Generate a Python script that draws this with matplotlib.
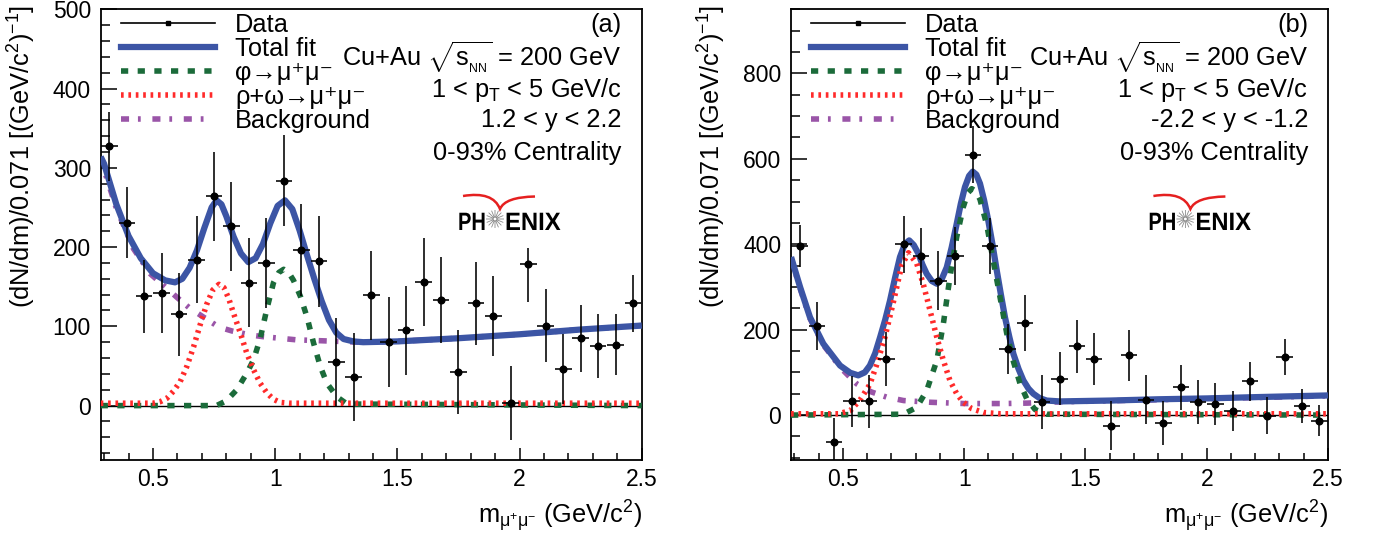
"""PHENIX Cu+Au dimuon invariant-mass spectra in the phi region, two rapidity arms."""
import matplotlib

matplotlib.use("Agg")
import matplotlib.pyplot as plt  # noqa: E402
import numpy as np  # noqa: E402
from matplotlib.font_manager import FontProperties  # noqa: E402
from matplotlib.lines import Line2D  # noqa: E402
from matplotlib.patches import PathPatch  # noqa: E402
from matplotlib.path import Path  # noqa: E402
from matplotlib.textpath import TextPath  # noqa: E402
from matplotlib.ticker import FuncFormatter, MultipleLocator  # noqa: E402
from matplotlib.transforms import Affine2D, IdentityTransform  # noqa: E402

plt.rcParams["font.family"] = ["Liberation Sans", "DejaVu Sans"]
plt.rcParams["mathtext.fontset"] = "custom"
plt.rcParams["mathtext.rm"] = "Liberation Sans"
plt.rcParams["mathtext.it"] = "Liberation Sans:italic"
plt.rcParams["mathtext.default"] = "regular"

# ---- data: bin centres (GeV/c^2), bin width 0.071 ----
MASS = [0.321, 0.393, 0.464, 0.536, 0.607, 0.679, 0.750, 0.821, 0.893, 0.964,
        1.036, 1.107, 1.179, 1.250, 1.321, 1.393, 1.464, 1.536, 1.607, 1.679,
        1.750, 1.821, 1.893, 1.964, 2.036, 2.107, 2.179, 2.250, 2.321, 2.393, 2.464]
BIN_HALF = 0.034

# panel (a): 1.2 < y < 2.2
A_COUNTS = [327, 231, 138, 142, 115, 184, 264, 226, 155, 180, 284, 196, 182, 55, 36,
            139, 80, 95, 156, 133, 43, 129, 113, 3, 179, 101, 46, 85, 75, 77, 129]
A_ERR_LO = [43, 45, 46, 51, 52, 55, 56, 56, 56, 57, 58, 58, 57, 56, 56, 56,
            57, 56, 55, 54, 53, 52, 50, 47, 48, 46, 44, 42, 40, 38, 36]
A_ERR_HI = [43, 45, 46, 51, 52, 55, 56, 56, 56, 57, 58, 58, 57, 56, 56, 56,
            57, 56, 55, 54, 53, 52, 50, 47, 20, 46, 44, 42, 40, 38, 36]

A_TOTAL_X = [0.286, 0.30, 0.35, 0.40, 0.45, 0.50, 0.55, 0.59, 0.62, 0.65, 0.68, 0.71,
             0.74, 0.76, 0.78, 0.80, 0.83, 0.86, 0.89, 0.92, 0.95, 0.98, 1.01, 1.04,
             1.07, 1.10, 1.13, 1.16, 1.19, 1.22, 1.25, 1.28, 1.32, 1.36, 1.5, 1.75,
             2.0, 2.25, 2.5]
A_TOTAL_Y = [314, 305, 254, 214, 186, 167, 158, 155.5, 160, 174, 196, 224,
             250, 259, 254, 239, 213, 192, 181, 186, 204, 230, 252, 259,
             248, 221, 190, 160, 132, 108, 92, 84, 81, 80, 81, 85,
             90, 96, 101]
A_PHI_X = [0.286, 0.76, 0.80, 0.843, 0.884, 0.912, 0.939, 0.966, 0.993, 1.015, 1.035,
           1.055, 1.075, 1.103, 1.13, 1.157, 1.185, 1.212, 1.253, 1.294, 2.5]
A_PHI_Y = [0, 0, 6, 20, 41, 58, 85, 122, 155, 168, 172,
           168, 158, 138, 112, 79, 49, 28, 11, 2, 0]
A_RHO_X = [0.286, 0.45, 0.50, 0.53, 0.556, 0.583, 0.611, 0.638, 0.666, 0.693, 0.72,
           0.745, 0.77, 0.79, 0.81, 0.829, 0.857, 0.884, 0.912, 0.939, 0.966, 0.993,
           1.02, 1.06, 2.5]
A_RHO_Y = [3, 3, 3, 5, 9, 18, 30, 49, 74, 102, 128,
           146, 153, 149, 135, 117, 92, 66, 45, 28, 16, 8,
           4, 3, 3]
A_BKG_X = [0.286, 0.35, 0.42, 0.49, 0.557, 0.60, 0.65, 0.70, 0.77, 0.825, 0.90, 0.95,
           1.086, 1.26, 1.35, 1.5, 1.75, 2.0, 2.25, 2.5]
A_BKG_Y = [311, 249, 198, 166, 148, 136, 123, 113, 99, 94, 89, 87,
           83, 81, 80, 81, 85, 90, 96, 101]

# panel (b): -2.2 < y < -1.2
B_COUNTS = [396, 208, -64, 32, 32, 132, 400, 372, 315, 372, 610, 396, 155, 215, 30,
            85, 161, 132, -25, 140, 36, -19, 65, 30, 25, 10, 79, -1, 137, 21, -13]
B_ERR = [50, 56, 57, 60, 63, 63, 67, 67, 68, 68, 66, 66, 58, 66, 63, 62,
         62, 61, 57, 60, 57, 52, 53, 51, 49, 47, 45, 43, 42, 39, 36]

B_TOTAL_X = [0.286, 0.323, 0.364, 0.419, 0.488, 0.53, 0.563, 0.59, 0.611, 0.633, 0.653,
             0.674, 0.694, 0.715, 0.735, 0.755, 0.773, 0.792, 0.811, 0.828, 0.845,
             0.866, 0.887, 0.907, 0.928, 0.948, 0.969, 0.986, 1.003, 1.02, 1.035,
             1.05, 1.065, 1.082, 1.099, 1.117, 1.134, 1.151, 1.168, 1.186, 1.203,
             1.224, 1.244, 1.265, 1.285, 1.31, 1.34, 1.395, 1.6, 1.8, 2.0, 2.2, 2.5]
B_TOTAL_Y = [370, 300, 229, 167, 116, 99, 93, 100, 116, 145, 182,
             223, 268, 322, 370, 400, 409, 398, 378, 352, 331,
             314, 307.5, 318, 346, 392, 448, 495, 534, 560, 570,
             563, 542, 503, 456, 398, 339, 283, 229, 183, 143,
             108, 81, 62, 50, 40, 34, 32, 34, 37, 39, 42, 46]
B_PHI_X = [0.286, 0.749, 0.804, 0.845, 0.887, 0.914, 0.941, 0.969, 0.996, 1.015, 1.031,
           1.048, 1.065, 1.093, 1.12, 1.148, 1.175, 1.203, 1.23, 1.258, 1.292, 1.34, 2.5]
B_PHI_Y = [0, 2, 18, 57, 128, 214, 323, 417, 487, 520, 530,
           524, 505, 445, 360, 275, 192, 125, 74, 38, 13, 2, 0]
B_RHO_X = [0.286, 0.48, 0.529, 0.57, 0.611, 0.639, 0.673, 0.708, 0.742, 0.77, 0.804,
           0.831, 0.859, 0.887, 0.914, 0.941, 0.969, 0.996, 1.031, 1.079, 1.15, 2.5]
B_RHO_Y = [3, 3, 10, 35, 72, 118, 182, 265, 350, 380, 355,
           307, 245, 182, 128, 81, 50, 30, 15, 6, 3, 3]
B_BKG_X = [0.286, 0.323, 0.364, 0.419, 0.46, 0.488, 0.53, 0.557, 0.59, 0.618, 0.68,
           0.75, 0.86, 1.0, 1.16, 1.26, 1.34, 1.4, 1.8, 2.2, 2.5]
B_BKG_Y = [367, 297, 226, 164, 134, 112, 88, 73, 62, 54, 42,
           34, 30, 27, 27, 28, 30, 31, 36, 41, 45]

LEGEND_LABELS = ["Data", "Total fit", "φ→μ⁺μ⁻", "ρ+ω→μ⁺μ⁻", "Background"]

BLUE = "#3C55A5"
GREEN = "#1B6B3A"
RED = "#FF2A2A"
PURPLE = "#9A55A8"
TXT = 18.3


def _logo(ax):
    """Rough PHENIX logo: condensed bold letters, a starburst and the red swoosh."""
    fig = ax.figure
    ox, oy = ax.transAxes.transform((0, 0))
    prop = FontProperties(family="Liberation Sans", weight="bold")
    for s, dx, sx in (("PH", 357.4, 0.8), ("ENIX", 404.4, 0.95)):
        tp = TextPath((0, 0), s, size=25.1, prop=prop)
        tr = Affine2D().scale(sx, 1.0).translate(ox + dx, oy + 229.5)
        fig.add_artist(PathPatch(tr.transform_path(tp), facecolor="black",
                                 edgecolor="none", transform=IdentityTransform()))
    cx, cy = ox + 394.4, oy + 240.5
    verts, codes = [], []
    for a in np.linspace(0, 2 * np.pi, 16, endpoint=False):
        verts += [(cx + 1.5 * np.cos(a), cy + 1.5 * np.sin(a)),
                  (cx + 9 * np.cos(a), cy + 9 * np.sin(a))]
        codes += [Path.MOVETO, Path.LINETO]
    fig.add_artist(PathPatch(Path(verts, codes), fill=False, edgecolor="#8a8a8a",
                             lw=0.6, transform=IdentityTransform()))
    # seagull-shaped swoosh: arched left wing down to a point, flatter right wing
    swoosh = Path([(ox + 362.4, oy + 263.5), (ox + 392.4, oy + 268.5), (ox + 399.4, oy + 250.5),
                   (ox + 404.4, oy + 262.5), (ox + 434.4, oy + 263.0)],
                  [Path.MOVETO, Path.CURVE3, Path.CURVE3, Path.CURVE3, Path.CURVE3])
    fig.add_artist(PathPatch(swoosh, fill=False, edgecolor="#E52020", lw=1.8,
                             joinstyle="miter", transform=IdentityTransform()))


def draw_panel(ax, counts, err_lo, err_hi, curves, ylim, ymajor, yminor, tag, rap, ylab_x):
    tot, phi, rho, bkg = curves
    ax.axhline(0, color="black", lw=1.0, zorder=1)
    ax.plot(*bkg, color=PURPLE, lw=4, ls=(0, (1.45, 1.6, 0.5, 2.1)), zorder=2)
    ax.plot(*tot, color=BLUE, lw=4.5, solid_capstyle="butt", zorder=3)
    ax.plot(*phi, color=GREEN, lw=4, ls=(0, (1.3, 1.7)), zorder=4)
    ax.plot(*rho, color=RED, lw=4, ls=(0, (0.48, 0.85)), zorder=5)
    ax.errorbar(MASS, counts, yerr=[err_lo, err_hi], xerr=BIN_HALF, fmt="o",
                color="black", ms=4.8, lw=1.15, capsize=0, zorder=6)

    ax.set_xlim(0.2857, 2.5)
    ax.set_ylim(*ylim)
    ax.xaxis.set_major_locator(MultipleLocator(0.5))
    ax.xaxis.set_minor_locator(MultipleLocator(0.1))
    ax.yaxis.set_major_locator(MultipleLocator(ymajor))
    ax.yaxis.set_minor_locator(MultipleLocator(yminor))
    ax.xaxis.set_major_formatter(FuncFormatter(lambda v, _: f"{v:g}"))
    ax.tick_params(which="both", direction="in", top=False, right=False,
                   labelsize=16.5, width=1.1)
    ax.tick_params(axis="y", which="major", length=11.5, pad=7)
    ax.tick_params(axis="y", which="minor", length=6.5)
    ax.tick_params(axis="x", which="major", length=9, pad=6)
    ax.tick_params(axis="x", which="minor", length=5)
    for sp in ax.spines.values():
        sp.set_linewidth(1.3)

    ax.set_ylabel(r"(dN/dm)/0.071 [(GeV/c$^{2}$)$^{-1}$]", loc="top", fontsize=TXT)
    ax.yaxis.set_label_coords(ylab_x, 1.01)
    ax.set_xlabel(r"m$_{\mu^{+}\mu^{-}}$ (GeV/c$^{2}$)", loc="right", fontsize=TXT)
    ax.xaxis.set_label_coords(1.0, -0.085)

    handles = [Line2D([], [], color="black", lw=1.2, marker="s", ms=3),
               Line2D([], [], color=BLUE, lw=4.5),
               Line2D([], [], color=GREEN, lw=4, ls=(0, (1.3, 1.7))),
               Line2D([], [], color=RED, lw=4, ls=(0, (0.48, 0.85))),
               Line2D([], [], color=PURPLE, lw=4, ls=(0, (1.45, 1.6, 0.5, 2.1)))]
    ax.legend(handles, LEGEND_LABELS, loc="upper left", bbox_to_anchor=(0.037, 0.992),
              frameon=False, fontsize=TXT, handlelength=3.7, handletextpad=0.8,
              labelspacing=0.0, borderpad=0, borderaxespad=0)

    tx = 0.963
    ax.text(tx, 0.950, tag, transform=ax.transAxes, ha="right", va="baseline", fontsize=TXT)
    ax.text(tx, 0.875, r"Cu+Au $\sqrt{s_{_{NN}}}$ = 200 GeV", transform=ax.transAxes,
            ha="right", va="baseline", fontsize=TXT)
    ax.text(tx, 0.806, r"1 < p$_{T}$ < 5 GeV/c", transform=ax.transAxes,
            ha="right", va="baseline", fontsize=TXT)
    ax.text(tx, 0.7386, rap, transform=ax.transAxes, ha="right", va="baseline", fontsize=TXT)
    ax.text(tx, 0.666, "0-93% Centrality", transform=ax.transAxes,
            ha="right", va="baseline", fontsize=TXT)
    _logo(ax)


fig = plt.figure(figsize=(13.73, 5.38), dpi=100)
bottom = 1 - 459.5 / 538
height = 450.2 / 538
ax_a = fig.add_axes([100.6 / 1373, bottom, 541.2 / 1373, height])
ax_b = fig.add_axes([791.0 / 1373, bottom, 537.0 / 1373, height])

draw_panel(ax_a, A_COUNTS, A_ERR_LO, A_ERR_HI,
           [(A_TOTAL_X, A_TOTAL_Y), (A_PHI_X, A_PHI_Y), (A_RHO_X, A_RHO_Y), (A_BKG_X, A_BKG_Y)],
           (-68, 500), 100, 20, "(a)", "1.2 < y < 2.2", -0.116)
draw_panel(ax_b, B_COUNTS, B_ERR, B_ERR,
           [(B_TOTAL_X, B_TOTAL_Y), (B_PHI_X, B_PHI_Y), (B_RHO_X, B_RHO_Y), (B_BKG_X, B_BKG_Y)],
           (-104, 950), 200, 50, "(b)", "-2.2 < y < -1.2", -0.118)

fig.savefig("out.png", dpi=100)
